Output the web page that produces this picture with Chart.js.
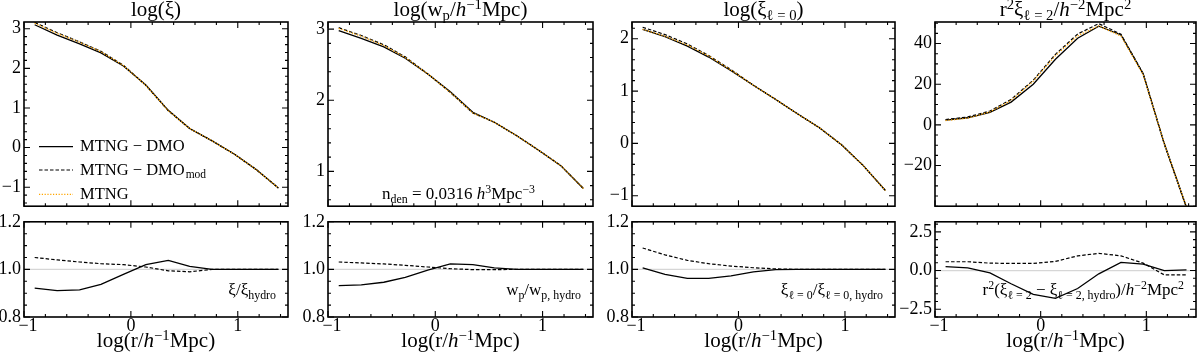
<!DOCTYPE html>
<html>
<head>
<meta charset="utf-8">
<script src="https://cdn.jsdelivr.net/npm/chart.js@4.4.1/dist/chart.umd.min.js"></script>
<style>
  body { margin: 0; background: #fff; width: 1200px; height: 363px; overflow: hidden; position: relative;
         font-family: 'Liberation Serif', 'Times New Roman', serif; }
  canvas { position: absolute; }
  .tx { position: absolute; white-space: nowrap; color: #000; }
  .sb { font-size: 0.7em; position: relative; top: 0.3em; line-height: 0; }
  .sp { font-size: 0.7em; position: relative; top: -0.5em; line-height: 0; }
</style>
</head>
<body>
<script>
// separation bins, log(r / h^-1 Mpc)
const logR = [-0.9, -0.69, -0.48, -0.28, -0.07, 0.14, 0.35, 0.55, 0.76, 0.97, 1.17, 1.38];

// log(xi)
const xiDmo    = [3.10, 2.84, 2.62, 2.39, 2.06, 1.58, 0.94, 0.48, 0.17, -0.17, -0.55, -1.02];
const xiDmoMod = [3.16, 2.90, 2.67, 2.43, 2.08, 1.57, 0.93, 0.48, 0.17, -0.17, -0.55, -1.02];
const xiHydro  = [3.14, 2.88, 2.66, 2.42, 2.07, 1.57, 0.93, 0.48, 0.17, -0.17, -0.55, -1.02];
const xiRatioDmo    = [0.921, 0.911, 0.914, 0.937, 0.979, 1.020, 1.038, 1.013, 1.0, 1.0, 1.0, 1.0];
const xiRatioDmoMod = [1.050, 1.040, 1.031, 1.024, 1.020, 1.010, 0.994, 0.990, 1.0, 1.0, 1.0, 1.0];

// log(wp)
const wpDmo    = [2.98, 2.87, 2.75, 2.59, 2.37, 2.12, 1.83, 1.69, 1.50, 1.29, 1.08, 0.76];
const wpDmoMod = [3.02, 2.91, 2.78, 2.61, 2.37, 2.11, 1.82, 1.69, 1.50, 1.29, 1.08, 0.76];
const wpHydro  = [3.01, 2.90, 2.77, 2.60, 2.37, 2.11, 1.82, 1.69, 1.50, 1.29, 1.08, 0.76];
const wpRatioDmo    = [0.932, 0.935, 0.946, 0.966, 0.997, 1.023, 1.020, 1.006, 1.0, 1.0, 1.0, 1.0];
const wpRatioDmoMod = [1.031, 1.027, 1.023, 1.017, 1.010, 1.003, 0.999, 0.999, 1.0, 1.0, 1.0, 1.0];

// log(xi_0)
const xi0Dmo    = [2.18, 2.04, 1.86, 1.65, 1.39, 1.11, 0.84, 0.57, 0.30, -0.03, -0.42, -0.90];
const xi0DmoMod = [2.22, 2.08, 1.90, 1.68, 1.41, 1.11, 0.84, 0.57, 0.30, -0.03, -0.42, -0.90];
const xi0Hydro  = [2.18, 2.05, 1.88, 1.67, 1.40, 1.11, 0.84, 0.57, 0.30, -0.03, -0.42, -0.90];
const xi0RatioDmo    = [1.006, 0.979, 0.962, 0.962, 0.973, 0.990, 0.999, 1.0, 1.0, 1.0, 1.0, 1.0];
const xi0RatioDmoMod = [1.090, 1.061, 1.038, 1.024, 1.014, 1.007, 1.002, 1.0, 1.0, 1.0, 1.0, 1.0];

// r^2 xi_2
const xi2Dmo    = [2.3, 3.5, 6.2, 11.2, 20.0, 32.3, 42.6, 48.5, 44.2, 25.1, -9.2, -40.5];
const xi2DmoMod = [2.6, 3.9, 6.8, 12.5, 22.0, 34.7, 44.7, 49.8, 44.6, 25.2, -9.5, -40.8];
const xi2Hydro  = [2.1, 3.3, 6.4, 12.0, 21.5, 34.1, 43.8, 48.7, 43.7, 24.7, -9.2, -40.5];
const xi2DiffDmo    = [0.25, 0.17, -0.15, -0.85, -1.54, -1.80, -1.16, -0.21, 0.53, 0.42, 0.0, 0.04];
const xi2DiffDmoMod = [0.57, 0.57, 0.48, 0.46, 0.46, 0.59, 0.95, 1.11, 0.95, 0.48, -0.28, -0.28];

// tick labels
const xTicks = [-1, 0, 1];
const yTicksXi = [-1, 0, 1, 2, 3];
const yTicksWp = [1, 2, 3];
const yTicksXi0 = [-1, 0, 1, 2];
const yTicksXi2 = [-20, 0, 20, 40];
const yTicksRatio = [0.8, 1.0, 1.2];
const yTicksDiff = [-2.5, 0.0, 2.5];

const legendLabels = ['MTNG \u2212 DMO', 'MTNG \u2212 DMO', 'MTNG'];
const legendSubs = ['', 'mod', ''];

const FONT = "'Liberation Serif', 'Times New Roman', serif";
const ORANGE = '#ffa500';
const AXW = 45;

const styles = [
  { borderColor: '#000', borderWidth: 1.3, borderDash: [] },
  { borderColor: '#000', borderWidth: 1.2, borderDash: [3.5, 2] },
  { borderColor: ORANGE, borderWidth: 1.3, borderDash: [1.2, 1.6] }
];

function pts(ys) {
  return logR.map((x, i) => ({ x: x, y: ys[i] }));
}

function minus(s) {
  return String(s).replace('-', '\u2212');
}

function range(a, b, step) {
  const out = [];
  for (let v = a; v <= b + 1e-9; v += step) out.push(+v.toFixed(4));
  return out;
}

// inside ticks on all four sides + frame (+ x tick labels on the lower row)
const frameTicks = {
  id: 'frameTicks',
  afterDraw(chart, args, o) {
    const { ctx, chartArea: a } = chart;
    const x = chart.scales.x, y = chart.scales.y;
    ctx.save();
    ctx.strokeStyle = '#000';
    ctx.lineWidth = 1.1;
    ctx.beginPath();
    function xt(vals, len) {
      vals.forEach(v => {
        const p = x.getPixelForValue(v);
        if (p < a.left - 0.5 || p > a.right + 0.5) return;
        ctx.moveTo(p, a.bottom); ctx.lineTo(p, a.bottom - len);
        ctx.moveTo(p, a.top); ctx.lineTo(p, a.top + len);
      });
    }
    function yt(vals, len) {
      vals.forEach(v => {
        const p = y.getPixelForValue(v);
        if (p < a.top - 0.5 || p > a.bottom + 0.5) return;
        ctx.moveTo(a.left, p); ctx.lineTo(a.left + len, p);
        ctx.moveTo(a.right, p); ctx.lineTo(a.right - len, p);
      });
    }
    xt(range(-1, 1.4, 0.2), 3);
    xt(xTicks, 6);
    yt(range(o.yMinorFrom, o.yMinorTo, o.yMinor), 3);
    yt(o.yMajor, 6);
    ctx.stroke();
    ctx.lineWidth = 1.6;
    ctx.strokeRect(a.left, a.top, a.right - a.left, a.bottom - a.top);
    if (o.xLabels) {
      ctx.fillStyle = '#000';
      ctx.font = '18px ' + FONT;
      ctx.textAlign = 'center';
      ctx.textBaseline = 'alphabetic';
      xTicks.forEach(v => {
        ctx.fillText(minus(v), x.getPixelForValue(v) + (v < 0 ? 4 : 0), a.bottom + 14);
      });
    }
    ctx.restore();
  }
};

// light reference line in the ratio panels
const refLine = {
  id: 'refLine',
  beforeDatasetsDraw(chart, args, o) {
    if (o.value === undefined) return;
    const { ctx, chartArea: a } = chart;
    const p = chart.scales.y.getPixelForValue(o.value);
    ctx.save();
    ctx.strokeStyle = '#d6d6d6';
    ctx.lineWidth = 1.2;
    ctx.beginPath();
    ctx.moveTo(a.left, p); ctx.lineTo(a.right, p);
    ctx.stroke();
    ctx.restore();
  }
};

// legend drawn inside the first panel
const innerLegend = {
  id: 'innerLegend',
  afterDraw(chart, args, o) {
    if (!o.show) return;
    const { ctx, chartArea: a } = chart;
    const rows = [146.7, 170, 194.3];
    ctx.save();
    rows.forEach((ry, i) => {
      const st = styles[i];
      ctx.strokeStyle = st.borderColor;
      ctx.lineWidth = st.borderWidth;
      ctx.setLineDash(st.borderDash);
      ctx.beginPath();
      ctx.moveTo(a.left + 15, ry); ctx.lineTo(a.left + 49, ry);
      ctx.stroke();
      ctx.setLineDash([]);
      ctx.fillStyle = '#000';
      ctx.font = '16.5px ' + FONT;
      ctx.textBaseline = 'alphabetic';
      const tx = a.left + 56;
      ctx.fillText(legendLabels[i], tx, ry + 4.5);
      if (legendSubs[i]) {
        const w = ctx.measureText(legendLabels[i]).width;
        ctx.font = '11.5px ' + FONT;
        ctx.fillText(legendSubs[i], tx + w + 1, ry + 8);
      }
    });
    ctx.restore();
  }
};

const panels = [
  { L: 24, R: 288, yMin: -1.48, yMax: 3.17, yT: yTicksXi, yMinor: 0.2,
    top: [xiDmo, xiDmoMod, xiHydro], bot: [xiRatioDmo, xiRatioDmoMod], ref: 1.0,
    bMin: 0.8, bMax: 1.2, bT: yTicksRatio, bMinor: 0.05 },
  { L: 328, R: 593, yMin: 0.51, yMax: 3.1, yT: yTicksWp, yMinor: 0.2,
    top: [wpDmo, wpDmoMod, wpHydro], bot: [wpRatioDmo, wpRatioDmoMod], ref: 1.0,
    bMin: 0.8, bMax: 1.2, bT: yTicksRatio, bMinor: 0.05 },
  { L: 632, R: 895, yMin: -1.2, yMax: 2.32, yT: yTicksXi0, yMinor: 0.2,
    top: [xi0Dmo, xi0DmoMod, xi0Hydro], bot: [xi0RatioDmo, xi0RatioDmoMod], ref: 1.0,
    bMin: 0.8, bMax: 1.2, bT: yTicksRatio, bMinor: 0.05 },
  { L: 935, R: 1196, yMin: -40, yMax: 50.6, yT: yTicksXi2, yMinor: 5,
    top: [xi2Dmo, xi2DmoMod, xi2Hydro], bot: [xi2DiffDmo, xi2DiffDmoMod], ref: 0.0,
    bMin: -3.0, bMax: 3.15, bT: yTicksDiff, bMinor: 0.5 }
];

function makeChart(left, top, w, h, padding, datasets, xLabels, yMin, yMax, yT, yMinor, fmt, ref, legend) {
  const c = document.createElement('canvas');
  c.width = w; c.height = h;
  c.style.left = left + 'px'; c.style.top = top + 'px';
  c.style.width = w + 'px'; c.style.height = h + 'px';
  document.body.appendChild(c);
  const first = Math.ceil(yMin / yMinor) * yMinor;
  return new Chart(c, {
    type: 'line',
    data: { datasets: datasets },
    options: {
      responsive: false,
      animation: false,
      layout: { padding: padding },
      elements: { point: { radius: 0 }, line: { tension: 0, fill: false } },
      scales: {
        x: {
          type: 'linear', min: -1, max: 1.47, display: false,
          afterFit: s => { s.height = 0; }
        },
        y: {
          type: 'linear', min: yMin, max: yMax,
          grid: { display: false, drawTicks: false }, border: { display: false },
          afterBuildTicks: s => { s.ticks = yT.map(v => ({ value: v })); },
          afterFit: s => { s.width = AXW; },
          ticks: { font: { family: FONT, size: 18 }, color: '#000', padding: 3, callback: fmt }
        }
      },
      plugins: {
        legend: { display: false },
        tooltip: { enabled: false },
        frameTicks: { yMajor: yT, yMinor: yMinor, yMinorFrom: first, yMinorTo: yMax, xLabels: xLabels },
        refLine: { value: ref },
        innerLegend: { show: legend }
      }
    },
    plugins: [refLine, frameTicks, innerLegend]
  });
}

panels.forEach((p, k) => {
  const w = p.R - p.L + AXW + 3;
  const topSets = [2, 0, 1].map(i => Object.assign({ data: pts(p.top[i]) }, styles[i]));
  makeChart(p.L - AXW, 0, w, 220, { top: 22, bottom: 2, right: 3, left: 0 },
    topSets, false, p.yMin, p.yMax, p.yT, p.yMinor, v => minus(v), undefined, k === 0);
  const botSets = [0, 1].map(i => Object.assign({ data: pts(p.bot[i]) }, styles[i]));
  makeChart(p.L - AXW, 208, w, 155, { top: 10, bottom: 46, right: 3, left: 0 },
    botSets, true, p.bMin, p.bMax, p.bT, p.bMinor, v => minus(v.toFixed(1)), p.ref, false);
});

// text with sub/superscripts
const titles = [
  'log(\u03be)',
  'log(w<span class="sb">p</span>/<i>h</i><span class="sp">\u22121</span>Mpc)',
  'log(\u03be<span class="sb">\u2113 = 0</span>)',
  'r<span class="sp">2</span>\u03be<span class="sb">\u2113 = 2</span>/<i>h</i><span class="sp">\u22122</span>Mpc<span class="sp">2</span>'
];
const ratioLabels = [
  '\u03be/\u03be<span class="sb">hydro</span>',
  'w<span class="sb">p</span>/w<span class="sb">p, hydro</span>',
  '\u03be<span class="sb">\u2113 = 0</span>/\u03be<span class="sb">\u2113 = 0, hydro</span>',
  'r<span class="sp">2</span>(\u03be<span class="sb">\u2113 = 2</span> \u2212 \u03be<span class="sb">\u2113 = 2, hydro</span>)/<i>h</i><span class="sp">\u22122</span>Mpc<span class="sp">2</span>'
];
const xTitle = 'log(r/<i>h</i><span class="sp">\u22121</span>Mpc)';

function addText(html, css) {
  const d = document.createElement('div');
  d.className = 'tx';
  d.innerHTML = html;
  Object.assign(d.style, css);
  document.body.appendChild(d);
}

panels.forEach((p, k) => {
  const wd = (p.R - p.L) + 'px';
  addText(titles[k], { left: p.L + 'px', width: wd, textAlign: 'center', top: '-1px', fontSize: '21px', lineHeight: '21px' });
  addText(xTitle, { left: p.L + 'px', width: wd, textAlign: 'center', top: '330px', fontSize: '21px', lineHeight: '21px' });
  addText(ratioLabels[k], { right: (1200 - p.R + 12) + 'px', top: '281px', fontSize: '17px', lineHeight: '17px' });
});
addText('n<span class="sb">den</span> = 0.0316 <i>h</i><span class="sp">3</span>Mpc<span class="sp">\u22123</span>',
  { left: '382px', top: '185px', fontSize: '17px', lineHeight: '17px' });
</script>
</body>
</html>
